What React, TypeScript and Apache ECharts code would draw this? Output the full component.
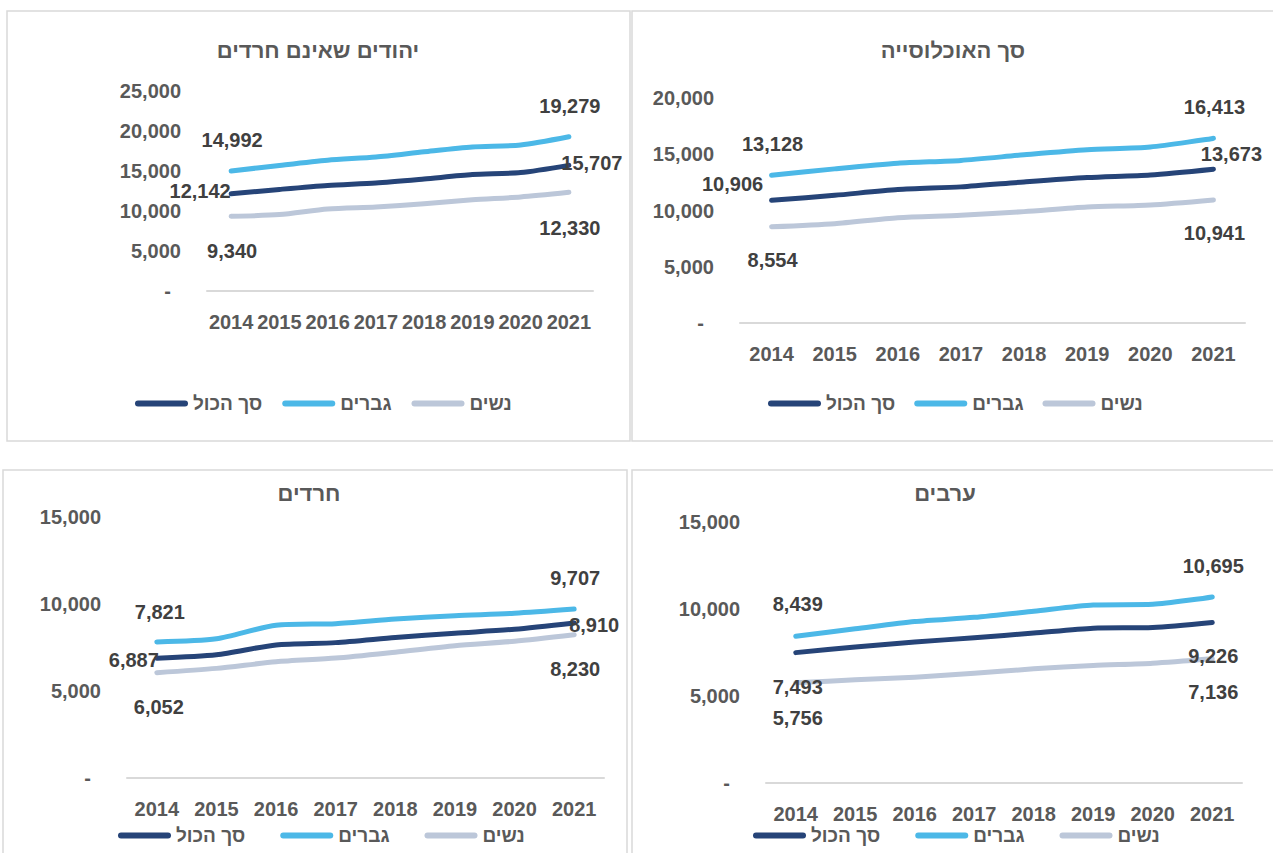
import React, { useEffect, useRef } from "react";
import * as echarts from "echarts";

// ---------- Data ----------
const YEARS = ["2014", "2015", "2016", "2017", "2018", "2019", "2020", "2021"];
const SERIES_NAMES = ["סך הכול", "גברים", "נשים"];

const PANEL_TITLES = ["יהודים שאינם חרדים", "סך האוכלוסייה", "חרדים", "ערבים"];
const Y_MAX = [25000, 20000, 15000, 15000];
const Y_INTERVAL = 5000;

// Jews who are not Haredi
const jewsTotal = [12142, 12700, 13200, 13500, 14000, 14550, 14800, 15707];
const jewsMen = [14992, 15700, 16350, 16750, 17400, 18000, 18250, 19279];
const jewsWomen = [9340, 9550, 10250, 10500, 10900, 11400, 11750, 12330];

// Total population
const allTotal = [10906, 11350, 11860, 12100, 12540, 12930, 13160, 13673];
const allMen = [13128, 13700, 14200, 14450, 14950, 15400, 15650, 16413];
const allWomen = [8554, 8830, 9360, 9570, 9900, 10310, 10490, 10941];

// Haredim
const haredimTotal = [6887, 7080, 7650, 7780, 8070, 8320, 8550, 8910];
const haredimMen = [7821, 8000, 8780, 8870, 9140, 9330, 9470, 9707];
const haredimWomen = [6052, 6300, 6680, 6890, 7230, 7600, 7860, 8230];

// Arabs
const arabsTotal = [7493, 7820, 8100, 8350, 8620, 8900, 8940, 9226];
const arabsMen = [8439, 8860, 9280, 9520, 9870, 10230, 10270, 10695];
const arabsWomen = [5756, 5930, 6080, 6310, 6560, 6750, 6880, 7136];

const PANEL_DATA = [
  [jewsTotal, jewsMen, jewsWomen],
  [allTotal, allMen, allWomen],
  [haredimTotal, haredimMen, haredimWomen],
  [arabsTotal, arabsMen, arabsWomen],
];

// ---------- Styles / layout ----------
const COLORS = ["#264478", "#4CB8E7", "#BCC7D9"];
const FONT = "'Liberation Sans', 'DejaVu Sans', sans-serif";
const AXIS_COLOR = "#595959";
const LABEL_COLOR = "#404040";
const NUM_SIZE = 20;

type Panel = {
  box: [number, number, number, number];
  grid: { left: number; top: number; width: number; height: number };
  title: [number, number];
  legend: { left: number; top: number; gap: number };
  offs: [number, number][][];
};

const PANELS: Panel[] = [
  {
    box: [7, 11, 623, 430],
    grid: { left: 207, top: 91, width: 386, height: 200 },
    title: [318, 50],
    legend: { left: 135, top: 394, gap: 20 },
    offs: [
      [[-31, -3], [23, -2]],
      [[1, -31], [1, -31]],
      [[1, 35], [1, 36]],
    ],
  },
  {
    box: [632, 11, 660, 430],
    grid: { left: 740, top: 98, width: 505, height: 225 },
    title: [953, 50],
    legend: { left: 768, top: 394, gap: 19 },
    offs: [
      [[-39, -16], [18, -15]],
      [[1, -31], [1, -31]],
      [[1, 33], [1, 33]],
    ],
  },
  {
    box: [3, 470, 624, 400],
    grid: { left: 127, top: 517, width: 477, height: 261 },
    title: [309, 493],
    legend: { left: 118, top: 826, gap: 35 },
    offs: [
      [[-23, 2], [20, 2]],
      [[3, -30], [1, -31]],
      [[2, 34], [1, 34]],
    ],
  },
  {
    box: [632, 470, 660, 400],
    grid: { left: 766, top: 522, width: 476, height: 261 },
    title: [945, 493],
    legend: { left: 753, top: 826, gap: 35 },
    offs: [
      [[2, 34], [1, 33.5]],
      [[2, -32], [1, -31]],
      [[2, 35], [1, 33]],
    ],
  },
];

const fmt = (v: number) => (v === 0 ? "{dash|-}" : v.toLocaleString("en-US"));

function buildOption() {
  const grid: any[] = [];
  const xAxis: any[] = [];
  const yAxis: any[] = [];
  const series: any[] = [];
  const legend: any[] = [];
  const graphic: any[] = [];

  PANELS.forEach((p, pi) => {
    graphic.push({
      type: "rect",
      z: -10,
      shape: { x: p.box[0], y: p.box[1], width: p.box[2], height: p.box[3] },
      style: { fill: "#ffffff", stroke: "#D9D9D9", lineWidth: 1.5 },
    });
    graphic.push({
      type: "text",
      x: p.title[0],
      y: p.title[1],
      style: {
        text: PANEL_TITLES[pi],
        align: "center",
        verticalAlign: "middle",
        font: `bold 22px ${FONT}`,
        fill: AXIS_COLOR,
      },
    });
    grid.push({ ...p.grid, containLabel: false });
    xAxis.push({
      type: "category",
      gridIndex: pi,
      data: YEARS,
      boundaryGap: true,
      axisTick: { show: false },
      axisLine: { lineStyle: { color: "#D9D9D9", width: 2 } },
      axisLabel: {
        interval: 0,
        margin: 21,
        color: AXIS_COLOR,
        fontSize: NUM_SIZE,
        fontWeight: "bold",
        fontFamily: FONT,
      },
    });
    yAxis.push({
      type: "value",
      gridIndex: pi,
      min: 0,
      max: Y_MAX[pi],
      interval: Y_INTERVAL,
      splitLine: { show: false },
      axisLine: { show: false },
      axisTick: { show: false },
      axisLabel: {
        margin: 26,
        color: AXIS_COLOR,
        fontSize: NUM_SIZE,
        fontWeight: "bold",
        fontFamily: FONT,
        formatter: fmt,
        rich: {
          dash: {
            color: AXIS_COLOR,
            fontSize: NUM_SIZE,
            fontWeight: "bold",
            fontFamily: FONT,
            padding: [0, 10, 0, 0],
          },
        },
      },
    });
    legend.push({
      left: p.legend.left,
      top: p.legend.top,
      itemGap: p.legend.gap,
      itemWidth: 53,
      itemHeight: 6,
      padding: 0,
      icon: "path://M3,0L50,0A3,3,0,0,1,50,6L3,6A3,3,0,0,1,3,0Z",
      selectedMode: false,
      textStyle: {
        color: AXIS_COLOR,
        fontSize: 19,
        fontWeight: "bold",
        fontFamily: FONT,
      },
      data: SERIES_NAMES,
    });

    PANEL_DATA[pi].forEach((vals, si) => {
      const last = vals.length - 1;
      series.push({
        type: "line",
        name: SERIES_NAMES[si],
        xAxisIndex: pi,
        yAxisIndex: pi,
        color: COLORS[si],
        smooth: 0.25,
        symbol: "circle",
        symbolSize: 1,
        showSymbol: true,
        lineStyle: { width: 5, cap: "round", join: "round", color: COLORS[si] },
        itemStyle: { color: COLORS[si] },
        emphasis: { disabled: true },
        z: 3 - si,
        data: vals.map((v, i) => {
          if (i !== 0 && i !== last) return v;
          const off = p.offs[si][i === 0 ? 0 : 1];
          return {
            value: v,
            label: {
              show: true,
              position: "inside",
              offset: off,
              formatter: (prm: any) => Number(prm.value).toLocaleString("en-US"),
              color: LABEL_COLOR,
              fontSize: NUM_SIZE,
              fontWeight: "bold",
              fontFamily: FONT,
            },
          };
        }),
      });
    });
  });

  return {
    animation: false,
    backgroundColor: "#ffffff",
    grid,
    xAxis,
    yAxis,
    legend,
    series,
    graphic,
  };
}

export default function App() {
  const ref = useRef<HTMLDivElement>(null);
  useEffect(() => {
    if (!ref.current) return;
    const chart = echarts.init(ref.current, undefined, { renderer: "svg" });
    chart.setOption(buildOption() as any);
    return () => chart.dispose();
  }, []);
  return (
    <div
      ref={ref}
      style={{ position: "absolute", left: 0, top: 0, width: 1273, height: 853 }}
    />
  );
}
